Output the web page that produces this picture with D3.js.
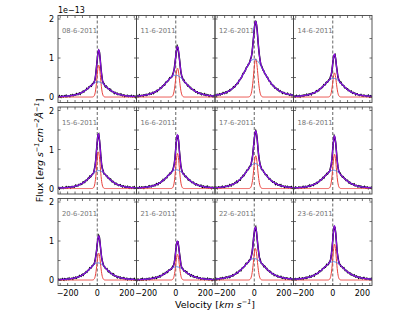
<!DOCTYPE html>
<html>
<head>
<meta charset="utf-8">
<script src="https://cdn.jsdelivr.net/npm/d3@7"></script>
<style>
  body { margin: 0; background: #fff; }
  text { font-family: "DejaVu Sans", sans-serif; }
</style>
</head>
<body>
<div class="fig"></div>
<script>
// one entry per panel
var dates     = ['08-6-2011', '11-6-2011', '12-6-2011', '14-6-2011',
                 '15-6-2011', '16-6-2011', '17-6-2011', '18-6-2011',
                 '20-6-2011', '21-6-2011', '22-6-2011', '23-6-2011'];
// narrow (red) gaussian component, flux in 1e-13
var narrowAmp = [0.82, 0.74, 0.98, 0.62, 0.94, 0.90, 0.84, 0.88, 0.69, 0.66, 0.81, 0.92];
var narrowCen = [10, 12, 10, 12, 8, 12, 10, 12, 10, 12, 8, 12];
var narrowSig = [12, 13, 14, 12, 12, 12, 13, 12, 12, 12, 13, 12];
// broad (blue) component
var broadAmp  = [0.39, 0.56, 0.97, 0.48, 0.46, 0.48, 0.64, 0.47, 0.44, 0.34, 0.55, 0.47];
var broadCen  = [5, 0, 0, 5, 10, 5, 5, 5, 5, 5, 0, 5];
var broadWid  = [120, 135, 140, 125, 120, 125, 125, 125, 115, 120, 135, 135];
// hand-read jitter of the observed spectrum around the fit (x 0.01)
var jitter = [1, -2, 0, 3, -1, -3, 2, 1, -2, 0, 2, -1, 3, -2, -1, 1, 0, -3, 2, 1,
              -1, 2, -2, 0, 1, -1, 3, 0, -2, 1, 2, -3, 0, 1, -1, 2, -2, 1, 0, -1,
              3, -1, -2, 2, 0, 1, -3, 1, 2, -1, 0, -2, 1, 3, -1, 0, -2, 2, 1, -1];
var xTicks = [-200, 0, 200];
var yTicks = [0, 1, 2];

var W = 407, H = 315;
var left = 58, top0 = 15.5, pw = 78.5, ph = 87, rowStep = 91.5;

var svg = d3.select('.fig').append('svg').attr('width', W).attr('height', H);

var x = d3.scaleLinear().domain([-265, 265]).range([0, pw]);
var y = d3.scaleLinear().domain([-0.14, 2.09]).range([ph, 0]);

function gauss(v, a, c, s) { return a * Math.exp(-0.5 * Math.pow((v - c) / s, 2)); }
function moffat(v, a, c, w) { return a / Math.pow(1 + Math.pow((v - c) / w, 2), 2); }

var grid = d3.range(-270, 271, 2);
var obsGrid = d3.range(-270, 271, 5);

var line = d3.line().x(function (d) { return x(d[0]); }).y(function (d) { return y(d[1]); });

svg.append('defs').append('clipPath').attr('id', 'clip')
  .append('rect').attr('width', pw).attr('height', ph);

dates.forEach(function (date, i) {
  var col = i % 4, row = Math.floor(i / 4);
  var g = svg.append('g')
    .attr('transform', 'translate(' + (left + col * pw) + ',' + (top0 + row * rowStep) + ')');

  var red = function (v) { return gauss(v, narrowAmp[i], narrowCen[i], narrowSig[i]); };
  var blue = function (v) { return moffat(v, broadAmp[i], broadCen[i], broadWid[i]); };

  var body = g.append('g').attr('clip-path', 'url(#clip)');

  body.append('line')
    .attr('x1', x(0)).attr('x2', x(0)).attr('y1', 0).attr('y2', ph)
    .attr('stroke', '#555').attr('stroke-width', 0.9).attr('stroke-dasharray', '3,2');

  var obs = obsGrid.map(function (v, k) {
    var j = jitter[(k + i * 7) % jitter.length] * 0.007;
    return [v, red(v) + blue(v) + j];
  });
  body.append('path').attr('d', line(obs))
    .attr('fill', 'none').attr('stroke', '#000').attr('stroke-width', 1.5);

  body.append('path').attr('d', line(grid.map(function (v) { return [v, red(v)]; })))
    .attr('fill', 'none').attr('stroke', '#e8413c').attr('stroke-width', 1);
  body.append('path').attr('d', line(grid.map(function (v) { return [v, blue(v)]; })))
    .attr('fill', 'none').attr('stroke', '#4a7fe0').attr('stroke-width', 1);
  body.append('path').attr('d', line(grid.map(function (v) { return [v, red(v) + blue(v)]; })))
    .attr('fill', 'none').attr('stroke', '#8a0ce0').attr('stroke-width', 1.2);

  g.append('text').attr('x', 4).attr('y', 17.5)
    .attr('font-size', 6.8).attr('fill', '#777').text(date);

  // inward ticks on all four sides
  var xt = d3.range(-250, 251, 50);
  var yt = d3.range(0, 2.01, 0.5);
  g.selectAll('.xtb').data(xt).enter().append('line')
    .attr('x1', x).attr('x2', x).attr('y1', ph).attr('y2', ph - 2.5)
    .attr('stroke', '#333').attr('stroke-width', 0.7);
  g.selectAll('.xtt').data(xt).enter().append('line')
    .attr('x1', x).attr('x2', x).attr('y1', 0).attr('y2', 2.5)
    .attr('stroke', '#333').attr('stroke-width', 0.7);
  g.selectAll('.ytl').data(yt).enter().append('line')
    .attr('y1', y).attr('y2', y).attr('x1', 0).attr('x2', 2.5)
    .attr('stroke', '#333').attr('stroke-width', 0.7);
  g.selectAll('.ytr').data(yt).enter().append('line')
    .attr('y1', y).attr('y2', y).attr('x1', pw).attr('x2', pw - 2.5)
    .attr('stroke', '#333').attr('stroke-width', 0.7);

  g.append('rect').attr('width', pw).attr('height', ph)
    .attr('fill', 'none').attr('stroke', '#444').attr('stroke-width', 0.9);

  if (col === 0) {
    g.selectAll('.yl').data(yTicks).enter().append('text')
      .attr('x', -4).attr('y', function (d) { return y(d) + 3; })
      .attr('text-anchor', 'end').attr('font-size', 8).text(function (d) { return d; });
  }
  if (row === 2) {
    g.selectAll('.xl').data(xTicks).enter().append('text')
      .attr('x', x).attr('y', ph + 10)
      .attr('text-anchor', 'middle').attr('font-size', 8)
      .text(function (d) { return d < 0 ? '\u2212' + (-d) : d; });
  }
});

svg.append('text').attr('x', left).attr('y', 13).attr('font-size', 8).text('1e\u221213');

var xl = svg.append('text').attr('x', 215).attr('y', 308)
  .attr('text-anchor', 'middle').attr('font-size', 9.5);
xl.append('tspan').text('Velocity [');
xl.append('tspan').attr('font-style', 'italic').text('km s');
xl.append('tspan').attr('font-style', 'italic').attr('font-size', 6.5).attr('dy', -4).text('\u22121');
xl.append('tspan').attr('dy', 4).text(']');

var yl = svg.append('text')
  .attr('transform', 'translate(43,' + (top0 + rowStep + ph / 2) + ') rotate(-90)')
  .attr('text-anchor', 'middle').attr('font-size', 9.5);
yl.append('tspan').text('Flux [');
yl.append('tspan').attr('font-style', 'italic').text('erg s');
yl.append('tspan').attr('font-style', 'italic').attr('font-size', 6.5).attr('dy', -4).text('\u22121');
yl.append('tspan').attr('font-style', 'italic').attr('dy', 4).text('cm');
yl.append('tspan').attr('font-style', 'italic').attr('font-size', 6.5).attr('dy', -4).text('\u22122');
yl.append('tspan').attr('font-style', 'italic').attr('dy', 4).text('\u00c5');
yl.append('tspan').attr('font-style', 'italic').attr('font-size', 6.5).attr('dy', -4).text('\u22121');
yl.append('tspan').attr('dy', 4).text(']');
</script>
</body>
</html>
